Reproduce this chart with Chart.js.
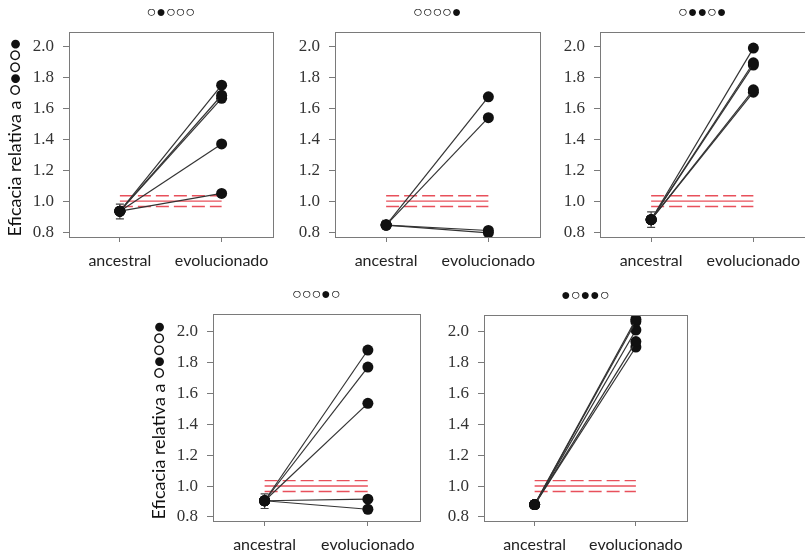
<!DOCTYPE html>
<html>
<head>
<meta charset="utf-8">
<script src="https://cdn.jsdelivr.net/npm/chart.js@4.4.0/dist/chart.umd.min.js"></script>
<style>
  html, body { margin: 0; padding: 0; background: #fff; overflow: hidden; width: 805px; height: 553px; }
  canvas { position: absolute; }
</style>
</head>
<body>
<script>
// Shared categories, ticks and reference levels
const categories = ['ancestral', 'evolucionado'];
const yTicks = [0.8, 1.0, 1.2, 1.4, 1.6, 1.8, 2.0];
const refLevels = [1.0, 1.035, 0.965];
const yAxisTitle = 'Eficacia relativa a ○●○○●';

// One entry per panel
const panelTitles = ['○●○○○', '○○○○●', '○●●○●', '○○○●○', '●○●●○'];
const ancestralMeans = [0.935, 0.845, 0.88, 0.905, 0.88];
const ancestralLow   = [0.885, 0.82, 0.83, 0.855, 0.855];
const ancestralHigh  = [0.98, 0.875, 0.93, 0.95, 0.905];

// Evolved lines per panel
const evolved1 = [1.75, 1.685, 1.665, 1.37, 1.05];
const evolved2 = [1.675, 1.54, 0.81, 0.795];
const evolved3 = [1.99, 1.895, 1.88, 1.72, 1.705];
const evolved4 = [1.88, 1.77, 1.535, 0.915, 0.85];
const evolved5 = [2.08, 2.065, 2.01, 1.935, 1.90];
const evolvedSets = [evolved1, evolved2, evolved3, evolved4, evolved5];

// Plot frame geometry (page pixels) and y-limits for each panel
const frames = [
  { left: 69, top: 32,  right: 274, bottom: 237, yMin: 0.768, yMax: 2.094, yTitle: true },
  { left: 335, top: 32, right: 541, bottom: 237, yMin: 0.768, yMax: 2.094, yTitle: false },
  { left: 600, top: 32, right: 806, bottom: 237, yMin: 0.768, yMax: 2.094, yTitle: false },
  { left: 213, top: 314, right: 421, bottom: 521, yMin: 0.774, yMax: 2.113, yTitle: true },
  { left: 484, top: 315, right: 688, bottom: 521, yMin: 0.774, yMax: 2.107, yTitle: false }
];

const Y_AXIS_W = 70, PAD_TOP = 32, X_AXIS_H = 40, PAD_RIGHT = 4;
const RED = '#e8505b';

const panelDecor = {
  id: 'panelDecor',
  beforeDatasetsDraw(chart, args, opts) {
    const { ctx } = chart;
    const xs = chart.scales.x, ys = chart.scales.y;
    const px = xs.getPixelForValue(1);
    const yLo = ys.getPixelForValue(ancestralLow[opts.index]);
    const yHi = ys.getPixelForValue(ancestralHigh[opts.index]);
    ctx.save();
    ctx.strokeStyle = '#444';
    ctx.lineWidth = 1.2;
    ctx.beginPath();
    ctx.moveTo(px, yLo); ctx.lineTo(px, yHi);
    ctx.moveTo(px - 4, yLo); ctx.lineTo(px + 4, yLo);
    ctx.moveTo(px - 4, yHi); ctx.lineTo(px + 4, yHi);
    ctx.stroke();
    ctx.restore();
  },
  afterDraw(chart, args, opts) {
    const { ctx, chartArea: a } = chart;
    ctx.save();
    // frame around the plotting region
    ctx.strokeStyle = '#7a7a7a';
    ctx.lineWidth = 1;
    ctx.strokeRect(Math.round(a.left) + 0.5, Math.round(a.top) + 0.5,
                   Math.round(a.right - a.left), Math.round(a.bottom - a.top));
    // panel heading
    ctx.fillStyle = '#111';
    ctx.font = '16px "Liberation Sans"';
    ctx.textAlign = 'center';
    ctx.textBaseline = 'middle';
    ctx.fillText(panelTitles[opts.index], (a.left + a.right) / 2, a.top - 19);
    // vertical axis title
    if (opts.yTitle) {
      ctx.translate(16, (a.top + a.bottom) / 2 + 3);
      ctx.rotate(-Math.PI / 2);
      ctx.font = '18px Lato, "Liberation Sans"';
      ctx.fillStyle = '#111';
      ctx.fillText(yAxisTitle, 0, 0);
    }
    ctx.restore();
  }
};

frames.forEach((f, i) => {
  const cv = document.createElement('canvas');
  const w = (f.right - f.left) + Y_AXIS_W + PAD_RIGHT;
  const h = (f.bottom - f.top) + PAD_TOP + X_AXIS_H;
  cv.width = w; cv.height = h;
  cv.style.width = w + 'px'; cv.style.height = h + 'px';
  cv.style.left = (f.left - Y_AXIS_W) + 'px';
  cv.style.top = (f.top - PAD_TOP) + 'px';
  document.body.appendChild(cv);

  const anc = ancestralMeans[i];
  const datasets = [];
  evolvedSets[i].forEach(v => {
    datasets.push({
      data: [{ x: 1, y: anc }, { x: 2, y: v }],
      borderColor: '#333',
      borderWidth: 1.2,
      pointRadius: 5.5,
      pointBackgroundColor: '#111',
      pointBorderColor: '#111',
      pointBorderWidth: 0,
      order: 1
    });
  });
  refLevels.forEach((lvl, k) => {
    datasets.push({
      data: [{ x: 1, y: lvl }, { x: 2, y: lvl }],
      borderColor: RED,
      borderWidth: 1.4,
      borderDash: k === 0 ? [] : [13, 5],
      pointRadius: 0,
      order: 2
    });
  });

  new Chart(cv, {
    type: 'line',
    data: { datasets },
    options: {
      responsive: false,
      animation: false,
      events: [],
      layout: { padding: { top: PAD_TOP, right: PAD_RIGHT, left: 0, bottom: 0 } },
      plugins: {
        legend: { display: false },
        tooltip: { enabled: false },
        panelDecor: { index: i, yTitle: f.yTitle }
      },
      scales: {
        x: {
          type: 'linear',
          min: 0.5, max: 2.5,
          afterBuildTicks: s => { s.ticks = [{ value: 1 }, { value: 2 }]; },
          afterFit: s => { s.height = X_AXIS_H; s.paddingLeft = 0; s.paddingRight = 0; },
          ticks: {
            callback: v => categories[v - 1],
            autoSkip: false,
            maxRotation: 0,
            padding: 9,
            color: '#222',
            font: { family: 'Lato', size: 16 }
          },
          grid: { drawOnChartArea: false, tickLength: 5, color: '#7a7a7a' },
          border: { display: false }
        },
        y: {
          type: 'linear',
          min: f.yMin, max: f.yMax,
          afterBuildTicks: s => { s.ticks = yTicks.map(v => ({ value: v })); },
          afterFit: s => { s.width = Y_AXIS_W; s.paddingTop = 0; s.paddingBottom = 0; },
          ticks: {
            callback: v => v.toFixed(1),
            padding: 9,
            color: '#333',
            font: { family: 'Liberation Serif', size: 17 }
          },
          grid: { drawOnChartArea: false, tickLength: 6, color: '#7a7a7a' },
          border: { display: false }
        }
      }
    },
    plugins: [panelDecor]
  });
});
</script>
</body>
</html>
